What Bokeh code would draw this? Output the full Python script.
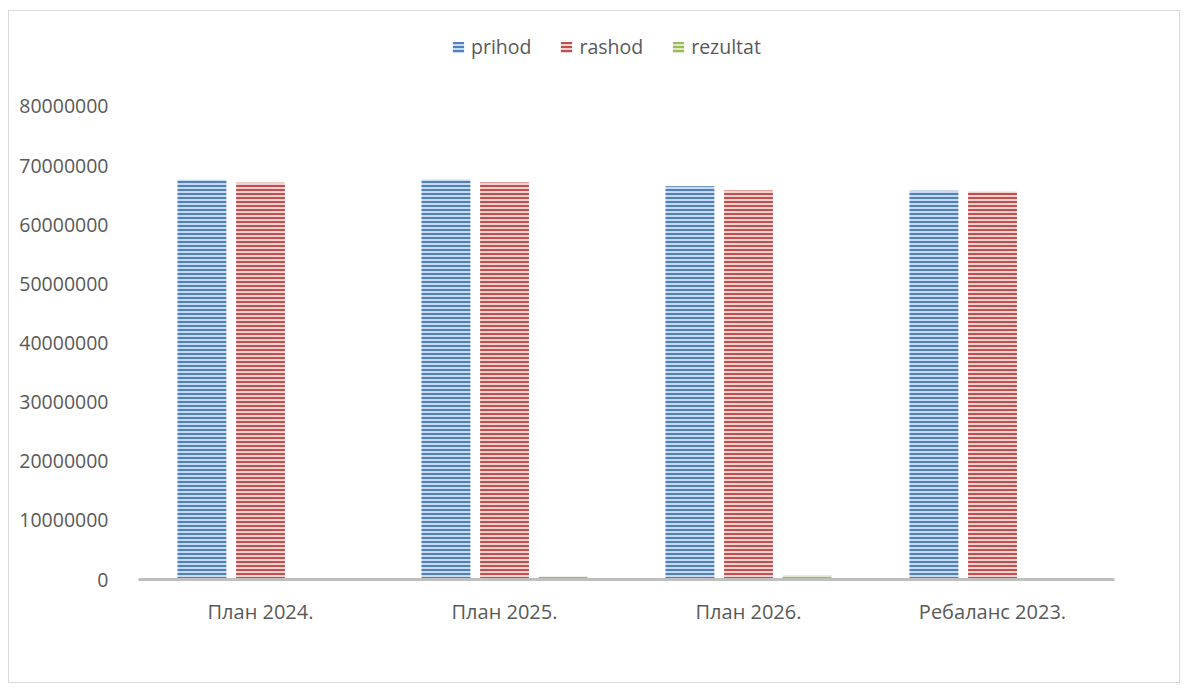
from bokeh.plotting import figure
from bokeh.models import (ColumnDataSource, FactorRange, Range1d, FixedTicker,
                          NumeralTickFormatter, Legend, LegendItem)
from bokeh.transform import dodge
from bokeh.embed import file_html
from bokeh.resources import INLINE

categories = ["План 2024.", "План 2025.", "План 2026.", "Ребаланс 2023."]
prihod = [67600000, 67650000, 66500000, 65750000]
rashod = [67100000, 67150000, 65800000, 65600000]
rezultat = [200000, 500000, 700000, 100000]
y_ticks = [0, 10000000, 20000000, 30000000, 40000000, 50000000, 60000000, 70000000, 80000000]

src = ColumnDataSource(dict(cat=categories, prihod=prihod, rashod=rashod, rezultat=rezultat))

FONT = "Open Sans"
TXT = "#595959"

p = figure(x_range=FactorRange(*categories, range_padding=0),
           y_range=Range1d(0, 94700000),
           width=1172, height=673, output_backend="svg", toolbar_location=None,
           min_border_left=129, min_border_right=67, min_border_top=8, min_border_bottom=105)
p.styles = {"border": "1px solid #d9d9d9", "margin-left": "8px", "margin-top": "10px"}
p.outline_line_color = None
p.xgrid.visible = False
p.ygrid.visible = False

series = [
    ("prihod", -0.24, "#c9d9ee", "#4f81bd"),
    ("rashod", 0.0, "#f1d2d1", "#c0504d"),
    ("rezultat", 0.24, "#dde9c8", "#9bbb59"),
]
renderers = []
for name, off, fill, hatch in series:
    r = p.vbar(x=dodge("cat", off, range=p.x_range), top=name, width=0.2, bottom=0,
               source=src, fill_color=fill, line_color=None,
               hatch_pattern="horizontal_line", hatch_color=hatch,
               hatch_scale=4, hatch_weight=2)
    renderers.append((name, r))

p.yaxis.ticker = FixedTicker(ticks=y_ticks)
p.yaxis.formatter = NumeralTickFormatter(format="0")
p.yaxis.axis_line_color = None
p.yaxis.major_tick_line_color = None
p.yaxis.minor_tick_line_color = None
p.yaxis.major_label_standoff = 24
p.yaxis.major_label_text_font = FONT
p.yaxis.major_label_text_font_size = "19.5px"
p.yaxis.major_label_text_color = TXT

p.xaxis.axis_line_color = "#bfbfbf"
p.xaxis.axis_line_width = 3
p.xaxis.major_tick_line_color = None
p.xaxis.minor_tick_line_color = None
p.xaxis.major_label_standoff = 12
p.xaxis.major_label_text_font = FONT
p.xaxis.major_label_text_font_size = "20px"
p.xaxis.major_label_text_color = TXT

legend = Legend(items=[LegendItem(label=n, renderers=[r]) for n, r in renderers],
                orientation="horizontal", location=(313, 519),
                border_line_color=None, background_fill_alpha=0,
                padding=0, margin=0, spacing=28,
                glyph_width=14, glyph_height=14, label_standoff=6,
                label_text_font=FONT, label_text_font_size="19.5px", label_text_color=TXT)
p.add_layout(legend, "center")

open("out.html", "w").write(file_html(p, INLINE))
